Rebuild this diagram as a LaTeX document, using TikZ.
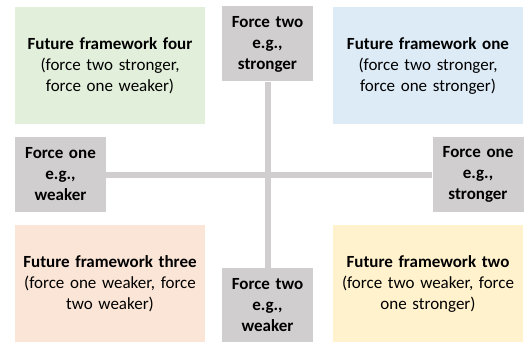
\documentclass[tikz,border=0pt]{standalone}
\usepackage{fontspec}
\setmainfont{Carlito}
\usetikzlibrary{positioning}
\definecolor{fwgreen}{HTML}{E2EFDA}
\definecolor{fwblue}{HTML}{DDEBF7}
\definecolor{fwpeach}{HTML}{FBE5D6}
\definecolor{fwyellow}{HTML}{FFF2CC}
\definecolor{forcegray}{HTML}{D0CECE}
\tikzset{
  future/.style={
    rectangle,
    % no border, only fill
    minimum width=190pt,
    minimum height=117pt,
    text width=180pt,
    inner sep=0pt,
    align=center,
    font=\fontsize{17}{21}\selectfont},
  force/.style={
    rectangle,
    fill=forcegray,
    minimum width=91pt,
    minimum height=75pt,
    text width=88pt,
    inner sep=0pt,
    align=center,
    font=\bfseries\fontsize{17}{21}\selectfont},
  axis/.style={draw=forcegray, line width=6pt},
}
\begin{document}
\begin{tikzpicture}[x=1pt,y=-1pt]
    \useasboundingbox (0,0) rectangle (527,342);

    \node [future, fill=fwgreen](fwfour) at (110,65.5){\textbf{Future framework four}\\(force two stronger,\\force one weaker)};
    \node [future, fill=fwblue](fwone) at (428,65.5){\textbf{Future framework one}\\(force two stronger,\\force one stronger)};
    \node [future, fill=fwpeach](fwthree) at (110,283.5){\textbf{Future framework three}\\(force one weaker, force\\two weaker)};
    \node [future, fill=fwyellow](fwtwo) at (428,283.5){\textbf{Future framework two}\\(force two weaker, force\\one stronger)};

    \node [force](twostrong) at (267.5,44){Force two\\e.g.,\\stronger};
    \node [force](twoweak) at (267.5,305.5){Force two\\e.g.,\\weaker};
    \node [force](oneweak) at (60.5,174.5){Force one\\e.g.,\\weaker};
    \node [force](onestrong) at (478,174.5){Force one\\e.g.,\\stronger};

    \draw[axis] (twostrong.south) -- (twoweak.north);
    \draw[axis] (oneweak.east) -- (onestrong.west);

\end{tikzpicture}
\end{document}
